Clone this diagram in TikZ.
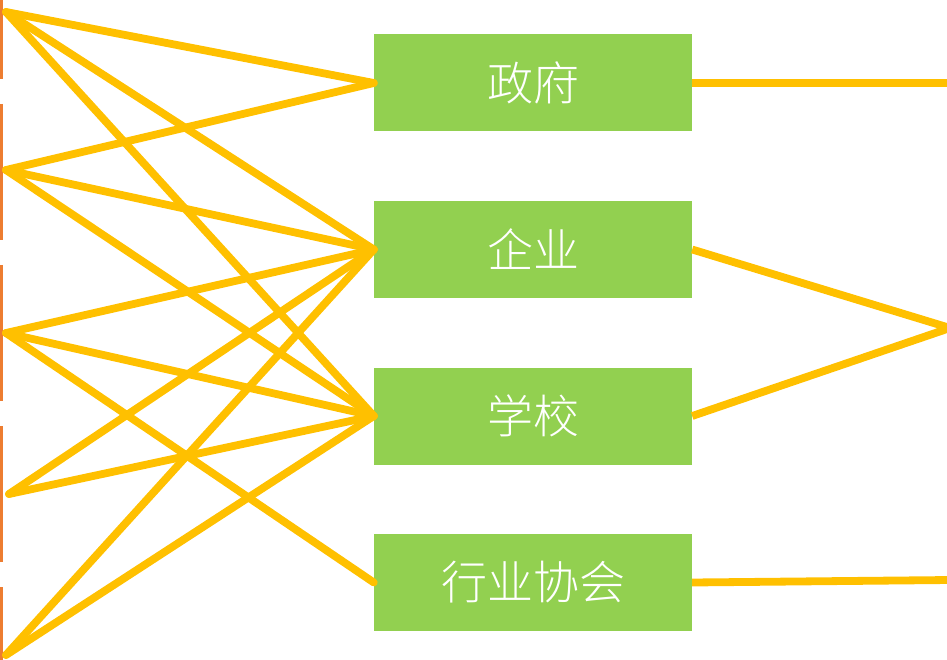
\documentclass[tikz,border=0pt]{standalone}
\usepackage{fontspec}
\newfontfamily\cjk{Noto Sans CJK SC Light}
\definecolor{boxgreen}{HTML}{92D050}
\definecolor{linkyellow}{HTML}{FFC000}
\definecolor{edgeorange}{HTML}{ED7D31}
\begin{document}
\begin{tikzpicture}[x=1pt,y=-1pt,
  orgbox/.style={fill=boxgreen,draw=none,minimum width=318pt,minimum height=97pt,inner sep=0pt,
    text=white,font=\cjk\fontsize{46}{50}\selectfont},
  link/.style={draw=linkyellow,line width=7.8pt,line cap=round,line join=miter}]
\useasboundingbox (0,0) rectangle (947,660);
\draw[edgeorange,line width=3pt,dash pattern=on 136pt off 25pt,dash phase=57pt] (1.5,0) -- (1.5,660);
\node[orgbox] (gov) at (533,83) {政府};
\node[orgbox] (ent) at (533,249.5) {企业};
\node[orgbox] (sch) at (533,416) {学校};
\node[orgbox] (ind) at (533,582.5) {行业协会};
\coordinate (p1) at (6,12);
\coordinate (p2) at (6,170);
\coordinate (p3) at (6,333);
\coordinate (p4) at (9,494);
\coordinate (p5) at (6,655);
\coordinate (r1) at (950,83);
\coordinate (r2) at (950,328);
\coordinate (r3) at (950,580);
\draw[link] (p1) -- (gov.west);
\draw[link] (p1) -- (ent.west);
\draw[link] (p1) -- (sch.west);
\draw[link] (p2) -- (gov.west);
\draw[link] (p2) -- (ent.west);
\draw[link] (p2) -- (sch.west);
\draw[link] (p3) -- (ent.west);
\draw[link] (p3) -- (sch.west);
\draw[link] (p3) -- (ind.west);
\draw[link] (p4) -- (ent.west);
\draw[link] (p4) -- (sch.west);
\draw[link] (p5) -- (ent.west);
\draw[link] (p5) -- (sch.west);
\draw[link,line cap=butt] (gov.east) -- (r1);
\draw[link,line cap=butt] (ent.east) -- (r2) -- (sch.east);
\draw[link,line cap=butt] (ind.east) -- (r3);
\end{tikzpicture}
\end{document}
